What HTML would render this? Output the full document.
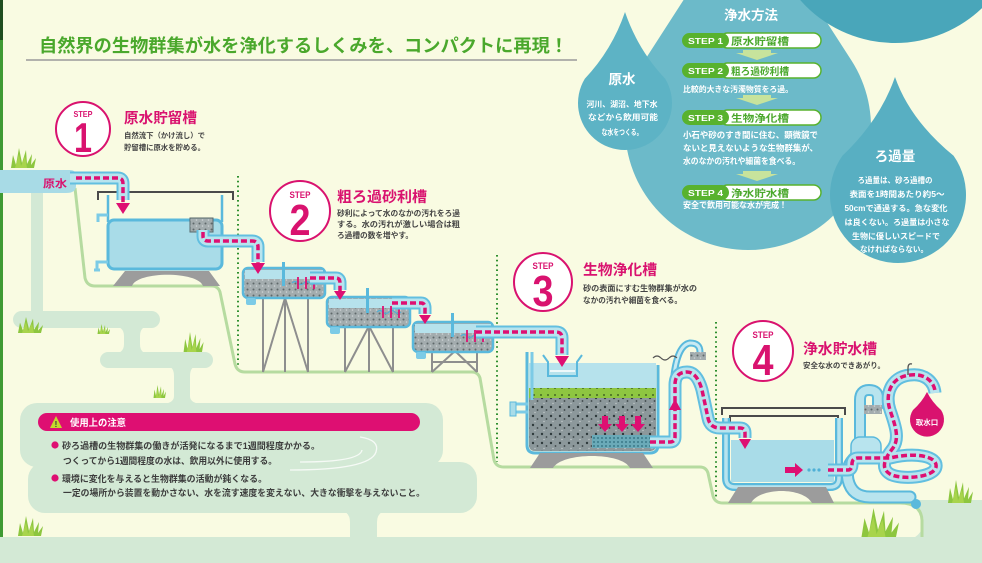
<!DOCTYPE html>
<html><head><meta charset="utf-8">
<style>
html,body{margin:0;padding:0;width:982px;height:563px;overflow:hidden;background:#f9fbe2}
svg{display:block}
text{font-family:"Liberation Sans","Noto Sans CJK JP",sans-serif}
</style></head><body>
<svg width="982" height="563" viewBox="0 0 982 563" xmlns="http://www.w3.org/2000/svg">
<defs>
 <pattern id="grav" width="6" height="6" patternUnits="userSpaceOnUse">
   <rect width="6" height="6" fill="#a3acae"/>
   <circle cx="1.5" cy="1.5" r="1" fill="#5f686a"/>
   <circle cx="4.5" cy="4" r="0.8" fill="#d0d5d6"/>
 </pattern>
 <pattern id="grav3" width="9" height="9" patternUnits="userSpaceOnUse">
   <rect width="9" height="9" fill="#8c989b"/>
   <circle cx="2" cy="2" r="1.2" fill="#2f3a3c"/>
   <circle cx="6.5" cy="5" r="0.9" fill="#3a4547"/>
   <circle cx="4" cy="7.5" r="0.7" fill="#c4cbcc"/>
 </pattern>
 <pattern id="greenl" width="7" height="7" patternUnits="userSpaceOnUse">
   <rect width="7" height="7" fill="#8ec641"/>
   <circle cx="2" cy="3" r="0.9" fill="#2d4a1a"/>
 </pattern>
 <pattern id="mesh" width="4" height="4" patternUnits="userSpaceOnUse">
   <rect width="4" height="4" fill="#6aaab8"/>
   <circle cx="2" cy="2" r="0.9" fill="#2d6b7a"/>
 </pattern>
 <g id="grass">
   <path d="M-13,0 L-11,-13 L-8,-3 L-5,-20 L-2,-5 L2,-18 L3,-4 L8,-14 L7,-3 L12,-10 L10,0 Z" fill="#8dc63f"/>
   <path d="M-9,0 L-5,-14 L-3,-2 L1,-12 L3,0 Z" fill="#a8d44c"/>
 </g>
</defs>

<!-- background -->
<rect width="982" height="563" fill="#f9fbe2"/>
<rect x="0" y="0" width="3" height="563" fill="#3f9a33"/>
<rect x="0" y="0" width="3" height="40" fill="#1f4d1f"/>

<!-- mint streams / regions -->
<g fill="#d3e9d5">
  <rect x="31" y="190" width="12" height="128"/>
  <rect x="13" y="311" width="147" height="17" rx="8.5"/>
  <path d="M112,326 Q124,326 124,336 L124,344 Q124,354 112,354 L150,354 Q140,354 140,344 L140,336 Q140,326 150,326 Z"/>
  <rect x="100" y="352" width="113" height="16" rx="8"/>
  <path d="M166,366 Q174,366 174,376 L174,396 Q174,404 160,404 L204,404 Q190,404 190,396 L190,376 Q190,366 198,366 Z"/>
  <rect x="20" y="403" width="423" height="64" rx="17"/>
  <rect x="28" y="462" width="449" height="51" rx="17"/>
  <path d="M336,510 Q350,510 350,522 L350,540 L377,540 L377,522 Q377,510 391,510 Z"/>
  <rect x="0" y="537" width="982" height="26"/>
  <path d="M890,500 L982,500 L982,540 L905,540 A18.5 18.5 0 0 0 905,503 L890,503 Z"/>
</g>
<g fill="none" stroke="#ffffff" stroke-width="1.3" opacity="0.8">
  <path d="M290,470 Q370,470 376,452 Q380,440 360,437"/>
  <path d="M300,462 Q360,462 362,450"/>
</g>

<!-- ground line -->
<path d="M75,188 L85,278 Q87,286 95,286 L212,286 Q218,286 220,292 L235,364 Q237,372 245,372 L472,372 Q478,372 480,378 L494,460 Q496,467 504,467 L700,467 Q706,467 708,473 L713,496 Q715,503 723,503 L900,503 Q921,503 922,520 L922,537" fill="none" stroke="#b6dba0" stroke-width="3"/>

<!-- dotted dividers -->
<g stroke="#2f8f2f" stroke-width="2" stroke-dasharray="1.6 3.2" fill="none">
  <line x1="238" y1="176" x2="238" y2="368"/>
  <line x1="497" y1="255" x2="497" y2="462"/>
  <line x1="716" y1="322" x2="716" y2="499"/>
</g>

<!-- water drops -->
<path d="M748,-100 L851.4,60.4 A123 123 0 1 1 644.6,60.4 Z" fill="#6cbac9"/>
<circle cx="895" cy="-83" r="126" fill="#49a6ba"/>
<path d="M625,12 Q612,50 584.8,78.7 A47 47 0 1 0 665.2,78.7 Q638,50 625,12 Z" fill="#5db3c5"/>
<path d="M895,77 Q880,120 842.4,155.8 A68 68 0 1 0 953.6,155.8 Q910,120 895,77 Z" fill="#58afc2"/>

<!-- drop texts -->
<g fill="#ffffff" font-weight="bold">
  <text x="751" y="20" font-size="13.5" text-anchor="middle">浄水方法</text>
  <text x="622" y="84" font-size="13.5" text-anchor="middle">原水</text>
  <text x="622" y="107" font-size="8" text-anchor="middle" textLength="71" lengthAdjust="spacingAndGlyphs">河川、湖沼、地下水</text>
  <text x="623" y="120" font-size="8" text-anchor="middle" textLength="70" lengthAdjust="spacingAndGlyphs">などから飲用可能</text>
  <text x="622" y="135" font-size="8" text-anchor="middle" textLength="41" lengthAdjust="spacingAndGlyphs">な水をつくる。</text>

  <text x="895" y="161" font-size="13.5" text-anchor="middle">ろ過量</text>
  <text x="895" y="183" font-size="7.8" text-anchor="middle" textLength="75" lengthAdjust="spacingAndGlyphs">ろ過量は、砂ろ過槽の</text>
  <text x="897" y="197" font-size="7.8" text-anchor="middle" textLength="95" lengthAdjust="spacingAndGlyphs">表面を1時間あたり約5〜</text>
  <text x="896" y="211" font-size="7.8" text-anchor="middle" textLength="103" lengthAdjust="spacingAndGlyphs">50cmで通過する。急な変化</text>
  <text x="897" y="225" font-size="7.8" text-anchor="middle" textLength="105" lengthAdjust="spacingAndGlyphs">は良くない。ろ過量は小さな</text>
  <text x="896" y="239" font-size="7.8" text-anchor="middle" textLength="88" lengthAdjust="spacingAndGlyphs">生物に優しいスピードで</text>
  <text x="894" y="252" font-size="7.8" text-anchor="middle" textLength="68" lengthAdjust="spacingAndGlyphs">なければならない。</text>

  <text x="683" y="92" font-size="8" textLength="110" lengthAdjust="spacingAndGlyphs">比較的大きな汚濁物質をろ過。</text>
  <text x="683" y="138" font-size="8.4" textLength="135" lengthAdjust="spacingAndGlyphs">小石や砂のすき間に住む、顕微鏡で</text>
  <text x="683" y="151" font-size="8.4" textLength="135" lengthAdjust="spacingAndGlyphs">ないと見えないような生物群集が、</text>
  <text x="683" y="164" font-size="8.4" textLength="117" lengthAdjust="spacingAndGlyphs">水のなかの汚れや細菌を食べる。</text>
  <text x="683" y="208" font-size="8.4" textLength="104" lengthAdjust="spacingAndGlyphs">安全で飲用可能な水が完成！</text>
</g>

<!-- step pills -->
<g>
  <g transform="translate(0,0)">
    <rect x="720" y="33" width="101" height="15" rx="7.5" fill="#fff" stroke="#58b22e" stroke-width="1.5"/>
    <rect x="682" y="33" width="47" height="15" rx="7.5" fill="#58b22e"/>
    <text x="688" y="44" font-size="8" font-weight="bold" fill="#fff" textLength="35" lengthAdjust="spacingAndGlyphs">STEP 1</text>
    <text x="731" y="45" font-size="10" font-weight="bold" fill="#4aa82c" textLength="58" lengthAdjust="spacingAndGlyphs">原水貯留槽</text>
  </g>
  <g transform="translate(0,30)">
    <rect x="720" y="33" width="101" height="15" rx="7.5" fill="#fff" stroke="#58b22e" stroke-width="1.5"/>
    <rect x="682" y="33" width="47" height="15" rx="7.5" fill="#58b22e"/>
    <text x="688" y="44" font-size="8" font-weight="bold" fill="#fff" textLength="35" lengthAdjust="spacingAndGlyphs">STEP 2</text>
    <text x="731" y="45" font-size="10" font-weight="bold" fill="#4aa82c" textLength="58" lengthAdjust="spacingAndGlyphs">粗ろ過砂利槽</text>
  </g>
  <g transform="translate(0,77)">
    <rect x="720" y="33" width="101" height="15" rx="7.5" fill="#fff" stroke="#58b22e" stroke-width="1.5"/>
    <rect x="682" y="33" width="47" height="15" rx="7.5" fill="#58b22e"/>
    <text x="688" y="44" font-size="8" font-weight="bold" fill="#fff" textLength="35" lengthAdjust="spacingAndGlyphs">STEP 3</text>
    <text x="731" y="45" font-size="10" font-weight="bold" fill="#4aa82c" textLength="58" lengthAdjust="spacingAndGlyphs">生物浄化槽</text>
  </g>
  <g transform="translate(0,152)">
    <rect x="720" y="33" width="101" height="15" rx="7.5" fill="#fff" stroke="#58b22e" stroke-width="1.5"/>
    <rect x="682" y="33" width="47" height="15" rx="7.5" fill="#58b22e"/>
    <text x="688" y="44" font-size="8" font-weight="bold" fill="#fff" textLength="35" lengthAdjust="spacingAndGlyphs">STEP 4</text>
    <text x="731" y="45" font-size="10" font-weight="bold" fill="#4aa82c" textLength="58" lengthAdjust="spacingAndGlyphs">浄水貯水槽</text>
  </g>
  <g fill="#c7e39c">
    <polygon points="743,50 771,50 771,53 778,53 757,60 736,53 743,53"/>
    <polygon points="743,95 771,95 771,98 778,98 757,105 736,98 743,98"/>
    <polygon points="743,171 771,171 771,174 778,174 757,181 736,174 743,174"/>
  </g>
</g>

<!-- title -->
<text x="39" y="52" font-size="18" font-weight="bold" fill="#4aa82c" textLength="529" lengthAdjust="spacingAndGlyphs">自然界の生物群集が水を浄化するしくみを、コンパクトに再現！</text>
<line x1="26" y1="60" x2="577" y2="60" stroke="#9a9a9a" stroke-width="1.6"/>

<!-- step circles -->
<g fill="#fff" stroke="#d9126f" stroke-width="2">
  <circle cx="83" cy="129" r="27"/>
  <circle cx="300" cy="211" r="30"/>
  <circle cx="543" cy="282" r="29"/>
  <circle cx="763" cy="351" r="30"/>
</g>
<g fill="#d9126f" font-weight="bold" text-anchor="middle">
  <text x="83" y="117" font-size="8.5" textLength="19" lengthAdjust="spacingAndGlyphs">STEP</text>
  <text x="83" y="152" font-size="42" textLength="18" lengthAdjust="spacingAndGlyphs">1</text>
  <text x="300" y="198" font-size="9" textLength="21" lengthAdjust="spacingAndGlyphs">STEP</text>
  <text x="300" y="235" font-size="44" textLength="21" lengthAdjust="spacingAndGlyphs">2</text>
  <text x="543" y="269" font-size="9" textLength="21" lengthAdjust="spacingAndGlyphs">STEP</text>
  <text x="543" y="306" font-size="44" textLength="21" lengthAdjust="spacingAndGlyphs">3</text>
  <text x="763" y="338" font-size="9" textLength="21" lengthAdjust="spacingAndGlyphs">STEP</text>
  <text x="763" y="375" font-size="44" textLength="21" lengthAdjust="spacingAndGlyphs">4</text>
</g>

<!-- step titles & descriptions -->
<g fill="#d9126f" font-weight="bold" font-size="14.5">
  <text x="124" y="123" textLength="73" lengthAdjust="spacingAndGlyphs">原水貯留槽</text>
  <text x="337" y="202" textLength="90" lengthAdjust="spacingAndGlyphs">粗ろ過砂利槽</text>
  <text x="583" y="275" textLength="74" lengthAdjust="spacingAndGlyphs">生物浄化槽</text>
  <text x="803" y="354" textLength="74" lengthAdjust="spacingAndGlyphs">浄水貯水槽</text>
</g>
<g fill="#444" font-weight="bold">
  <text x="124" y="138" font-size="7.4" textLength="81" lengthAdjust="spacingAndGlyphs">自然流下（かけ流し）で</text>
  <text x="124" y="150" font-size="7.4" textLength="81" lengthAdjust="spacingAndGlyphs">貯留槽に原水を貯める。</text>
  <text x="337" y="216" font-size="7.7" textLength="123" lengthAdjust="spacingAndGlyphs">砂利によって水のなかの汚れをろ過</text>
  <text x="337" y="227" font-size="7.7" textLength="123" lengthAdjust="spacingAndGlyphs">する。水の汚れが激しい場合は粗</text>
  <text x="337" y="238" font-size="7.7" textLength="76" lengthAdjust="spacingAndGlyphs">ろ過槽の数を増やす。</text>
  <text x="583" y="291" font-size="8" textLength="114" lengthAdjust="spacingAndGlyphs">砂の表面にすむ生物群集が水の</text>
  <text x="583" y="303" font-size="8" textLength="99" lengthAdjust="spacingAndGlyphs">なかの汚れや細菌を食べる。</text>
  <text x="803" y="368" font-size="7.5" textLength="82" lengthAdjust="spacingAndGlyphs">安全な水のできあがり。</text>
</g>

<!-- source band -->
<path d="M0,170 H70 Q76,170 76,176 V186 Q76,193 66,193 H0 Z" fill="#a8dbe6"/>
<text x="43" y="187" font-size="10.5" font-weight="bold" fill="#d9126f" textLength="24" lengthAdjust="spacingAndGlyphs">原水</text>

<!-- TANK 1 -->
<path d="M98,200 V192 H233 V200" fill="none" stroke="#4a4a4a" stroke-width="2"/>
<line x1="108" y1="195" x2="108" y2="222" stroke="#5ab9dc" stroke-width="2.5"/>
<line x1="222" y1="195" x2="222" y2="222" stroke="#5ab9dc" stroke-width="2.5"/>
<rect x="108" y="220" width="114" height="49" rx="6" fill="#a9dce8" stroke="#5ab9dc" stroke-width="3"/>
<path d="M108,215 H98 V222" fill="none" stroke="#7ccbe6" stroke-width="3"/>
<path d="M108,262 H97 V270 M94,270 H100" fill="none" stroke="#7ccbe6" stroke-width="3"/>
<rect x="190" y="218" width="23" height="14" fill="url(#grav)" stroke="#56676b" stroke-width="1"/>
<path d="M113,286 L125,271 H209 L220,286 H203 C198,271 137,271 132,286 Z" fill="#9c9c9c"/>

<!-- STEP 2 legs -->
<g stroke="#8e8e8e" stroke-width="2" fill="none">
  <path d="M263,298 V372 M308,298 V372 M285,298 L263,372 M285,298 L308,372 M285,298 V372"/>
  <path d="M345,326 V372 M393,326 V372 M369,326 L345,372 M369,326 L393,372 M369,326 V372"/>
  <path d="M432,351 V372 M477,351 V372 M455,351 L432,372 M455,351 L477,372 M432,362 H477"/>
</g>
<!-- step 2 tanks -->
<g>
  <rect x="243" y="268" width="82" height="30" rx="5" fill="url(#grav)" stroke="#5ab9dc" stroke-width="2.5"/>
  <rect x="245" y="270" width="78" height="9" fill="#b6e2ec"/>
  <rect x="282" y="262" width="3" height="24" fill="#5ab9dc"/>
  <rect x="327" y="297" width="83" height="30" rx="5" fill="url(#grav)" stroke="#5ab9dc" stroke-width="2.5"/>
  <rect x="329" y="299" width="79" height="9" fill="#b6e2ec"/>
  <rect x="366" y="288" width="3" height="25" fill="#5ab9dc"/>
  <rect x="413" y="322" width="80" height="30" rx="5" fill="url(#grav)" stroke="#5ab9dc" stroke-width="2.5"/>
  <rect x="415" y="324" width="76" height="9" fill="#b6e2ec"/>
  <rect x="451" y="313" width="3" height="24" fill="#5ab9dc"/>
  <g fill="#7ccbe6">
    <rect x="246" y="298" width="10" height="7" rx="2"/>
    <rect x="330" y="327" width="10" height="7" rx="2"/>
    <rect x="416" y="352" width="10" height="7" rx="2"/>
  </g>
  <g fill="none" stroke="#4fb0d6" stroke-width="1.2">
    <path d="M292,283 q3,-3 6,0 t6,0 t6,0 t6,0"/>
    <path d="M377,312 q3,-3 6,0 t6,0 t6,0 t6,0"/>
    <path d="M461,336 q3,-3 6,0 t6,0 t6,0 t6,0"/>
  </g>
  <g stroke="#de0f72" stroke-width="1.8">
    <path d="M298,277 V289 M306,277 V289 M314,277 V289"/>
    <path d="M383,306 V318 M391,306 V318 M399,306 V318"/>
    <path d="M467,330 V342 M475,330 V342 M483,330 V342"/>
  </g>
</g>

<!-- TANK 3 -->
<path d="M527,352 V445 Q527,453 535,453 H650 Q658,453 658,445 V365" fill="none" stroke="#5ab9dc" stroke-width="3"/>
<rect x="529" y="363" width="127" height="25" fill="#b6e2ec"/>
<rect x="529" y="388" width="127" height="10" fill="url(#greenl)"/>
<path d="M529,398 H656 V445 Q656,451 650,451 H535 Q529,451 529,445 Z" fill="url(#grav3)"/>
<rect x="592" y="435" width="58" height="13" fill="url(#mesh)"/>
<path d="M543,355 L548,362 V376 H577 V362 L582,355" fill="none" stroke="#5ab9dc" stroke-width="2"/>
<line x1="550" y1="371" x2="575" y2="371" stroke="#fff" stroke-width="1.5"/>
<path d="M532,352 V400 M513,404 H528 M513,412 H528" fill="none" stroke="#7ccbe6" stroke-width="3"/>
<rect x="510" y="402" width="6" height="14" fill="#a9dce8" stroke="#5ab9dc" stroke-width="1"/>
<path d="M530,468 L540,453 H643 L653,468 H630 C622,452 562,452 553,468 Z" fill="#9c9c9c"/>
<g fill="#de0f72">
  <path d="M602,416 h6 v8 h4 l-7,8 l-7,-8 h4 z"/>
  <path d="M619,416 h6 v8 h4 l-7,8 l-7,-8 h4 z"/>
  <path d="M635,416 h6 v8 h4 l-7,8 l-7,-8 h4 z"/>
</g>
<!-- vent near tank3 -->
<path d="M673,385 Q676,345 690,343 Q700,343 700,352" fill="none" stroke="#5ab9dc" stroke-width="7"/>
<path d="M673,385 Q676,345 690,343 Q700,343 700,352" fill="none" stroke="#c9ebf3" stroke-width="3"/>
<rect x="690" y="352" width="16" height="8" fill="url(#grav)"/>
<path d="M653,358 q4,-4 8,0 t8,0 t8,0" fill="none" stroke="#555" stroke-width="1.2"/>

<!-- TANK 4 -->
<path d="M722,415 V408 H845 V415" fill="none" stroke="#4a4a4a" stroke-width="2"/>
<path d="M730,423 V416 H838 V423" fill="none" stroke="#4a4a4a" stroke-width="2"/>
<path d="M726,418 V478 Q726,487 735,487 H830 Q839,487 839,478 V418" fill="none" stroke="#5ab9dc" stroke-width="8"/>
<path d="M726,418 V478 Q726,487 735,487 H830 Q839,487 839,478 V418" fill="none" stroke="#b8e4ee" stroke-width="3.5"/>
<rect x="731" y="440" width="103" height="42" fill="#a9dce8"/>
<path d="M728,503 L738,487 H826 L834,503 H812 C803,487 760,487 751,503 Z" fill="#9c9c9c"/>
<path d="M785,467 h10 v-4 l8,7 l-8,7 v-4 h-10 z" fill="#de0f72"/>
<g fill="#4fb0d6"><circle cx="809" cy="470" r="1.6"/><circle cx="814" cy="470" r="1.6"/><circle cx="819" cy="470" r="1.6"/></g>

<!-- tank4 outlet piping -->
<g fill="none" stroke-linecap="round" stroke-linejoin="round">
  <path d="M860,452 V400 Q860,390 869,390 Q878,390 878,398 V405" stroke="#5ab9dc" stroke-width="12"/>
  <path d="M860,452 V400 Q860,390 869,390 Q878,390 878,398 V405" stroke="#b8e4ee" stroke-width="8"/>
  <path d="M858,455 Q845,465 848,480 Q852,497 870,497 H910" stroke="#5ab9dc" stroke-width="13"/>
  <path d="M858,455 Q845,465 848,480 Q852,497 870,497 H910" stroke="#b8e4ee" stroke-width="9"/>
</g>
<rect x="851" y="437" width="30" height="25" rx="9" fill="#b8e4ee" stroke="#5ab9dc" stroke-width="1.5"/>
<rect x="864" y="405" width="18" height="9" fill="url(#grav)"/>
<circle cx="916" cy="504" r="5" fill="#5ab9dc"/>

<!-- pink tubes -->
<g fill="none" stroke-linecap="butt" stroke-linejoin="round">
  <g stroke="#62bfe0" stroke-width="13">
    <path d="M70,178 H118 Q123,178 123,184 V200"/>
    <path d="M203,230 V236 Q203,241 208,241 H252 Q258,241 258,247 V262"/>
    <path d="M310,278 H336 Q340,278 340,283 V290"/>
    <path d="M392,303 H421 Q425,303 425,308 V314"/>
    <path d="M476,332 H556 Q562,332 562,338 V355"/>
    <path d="M650,442 H670 Q675,442 675,437 V385 Q675,372 687,372 Q697,372 702,390 L708,418 Q710,428 720,428 H740 Q745,428 745,433 V438"/>
    <path d="M828,470 H848 Q852,470 852,464 Q852,458 858,458 H890 C915,452 938,456 936,467 C934,478 900,480 890,474 C880,468 885,458 893,448 C900,438 895,425 890,410 C885,395 890,377 910,375 C925,373 934,382 935,393"/>
  </g>
  <g stroke="#b8e4ee" stroke-width="9">
    <path d="M70,178 H118 Q123,178 123,184 V200"/>
    <path d="M203,230 V236 Q203,241 208,241 H252 Q258,241 258,247 V262"/>
    <path d="M310,278 H336 Q340,278 340,283 V290"/>
    <path d="M392,303 H421 Q425,303 425,308 V314"/>
    <path d="M476,332 H556 Q562,332 562,338 V355"/>
    <path d="M650,442 H670 Q675,442 675,437 V385 Q675,372 687,372 Q697,372 702,390 L708,418 Q710,428 720,428 H740 Q745,428 745,433 V438"/>
    <path d="M828,470 H848 Q852,470 852,464 Q852,458 858,458 H890 C915,452 938,456 936,467 C934,478 900,480 890,474 C880,468 885,458 893,448 C900,438 895,425 890,410 C885,395 890,377 910,375 C925,373 934,382 935,393"/>
  </g>
  <g stroke="#de0f72" stroke-width="3.5" stroke-dasharray="6 3">
    <path d="M76,178 H118 Q123,178 123,184 V203"/>
    <path d="M203,232 V236 Q203,241 208,241 H252 Q258,241 258,247 V264"/>
    <path d="M310,278 H336 Q340,278 340,283 V292"/>
    <path d="M392,303 H421 Q425,303 425,308 V316"/>
    <path d="M476,332 H556 Q562,332 562,338 V357"/>
    <path d="M650,442 H670 Q675,442 675,437 V385 Q675,372 687,372 Q697,372 702,390 L708,418 Q710,428 720,428 H740 Q745,428 745,433 V440"/>
    <path d="M828,470 H848 Q852,470 852,464 Q852,458 858,458 H890 C915,452 938,456 936,467 C934,478 900,480 890,474 C880,468 885,458 893,448 C900,438 895,425 890,410 C885,395 890,377 910,375 C925,373 934,382 935,391"/>
  </g>
</g>
<g fill="#de0f72">
  <polygon points="116,203 130,203 123,214"/>
  <polygon points="251,263 265,263 258,274"/>
  <polygon points="334,291 346,291 340,300"/>
  <polygon points="419,315 431,315 425,324"/>
  <polygon points="555,356 569,356 562,367"/>
  <polygon points="669,410 681,410 675,399"/>
  <polygon points="739,439 751,439 745,449"/>
</g>
<path d="M908,375 V368 Q908,363 912,364" fill="none" stroke="#555" stroke-width="1.3"/>
<!-- 取水口 drop -->
<path d="M927,392 Q922,402 913,410 A17 17 0 1 0 941,410 Q932,402 927,392 Z" fill="#d9126f"/>
<text x="927" y="425" font-size="7.5" font-weight="bold" fill="#fff" text-anchor="middle">取水口</text>

<!-- warning box -->
<rect x="38" y="413" width="382" height="18" rx="9" fill="#de0f72"/>
<polygon points="50,428 56,416 62,428" fill="#c5d92d"/>
<text x="56" y="427" font-size="8" font-weight="bold" fill="#333" text-anchor="middle">!</text>
<text x="70" y="426" font-size="9.5" font-weight="bold" fill="#fff" textLength="56" lengthAdjust="spacingAndGlyphs">使用上の注意</text>
<circle cx="55" cy="445" r="3.6" fill="#de0f72"/>
<circle cx="55" cy="478" r="3.6" fill="#de0f72"/>
<g fill="#3c3c3c" font-weight="bold" font-size="9">
  <text x="62" y="449" textLength="258" lengthAdjust="spacingAndGlyphs">砂ろ過槽の生物群集の働きが活発になるまで1週間程度かかる。</text>
  <text x="63" y="464" textLength="214" lengthAdjust="spacingAndGlyphs">つくってから1週間程度の水は、飲用以外に使用する。</text>
  <text x="62" y="482" textLength="205" lengthAdjust="spacingAndGlyphs">環境に変化を与えると生物群集の活動が鈍くなる。</text>
  <text x="63" y="496" textLength="362" lengthAdjust="spacingAndGlyphs">一定の場所から装置を動かさない、水を流す速度を変えない、大きな衝撃を与えないこと。</text>
</g>

<!-- grass -->
<use href="#grass" transform="translate(24,168) scale(1)"/>
<use href="#grass" transform="translate(31,333) scale(1,0.8)"/>
<use href="#grass" transform="translate(104,334) scale(0.5)"/>
<use href="#grass" transform="translate(194,352) scale(0.8,1)"/>
<use href="#grass" transform="translate(160,398) scale(0.5,0.65)"/>
<use href="#grass" transform="translate(31,536) scale(1)"/>
<use href="#grass" transform="translate(881,537) scale(1.5,1.45)"/>
<use href="#grass" transform="translate(961,503) scale(1,1.15)"/>
</svg>
</body></html>
